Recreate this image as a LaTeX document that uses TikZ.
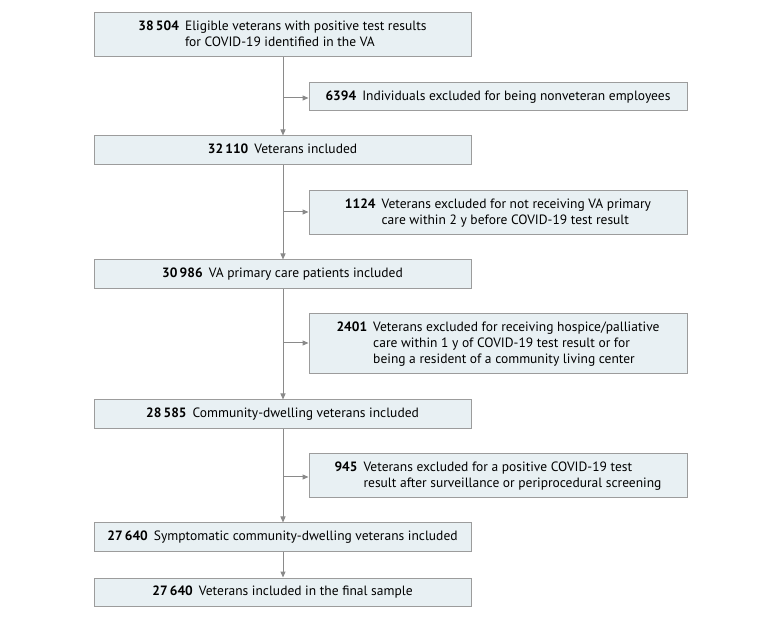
\documentclass[tikz,border=0pt]{standalone}
\usepackage{fontspec}
\setmainfont{PT Sans}
\usetikzlibrary{arrows.meta}
\definecolor{boxfill}{HTML}{E8F0F3}
\definecolor{boxline}{HTML}{9C9C9C}
\definecolor{conn}{HTML}{8A8A8A}
\newcommand{\fcrow}[2]{\begin{tabular}{@{}r@{\hspace{0.45em}}l@{}}\textbf{#1} & #2\end{tabular}}
\tikzset{
  flowbox/.style={draw=boxline, fill=boxfill, line width=1pt, inner sep=0pt, align=center,
    font=\fontsize{13.5}{17}\selectfont},
  mainbox/.style={flowbox, minimum width=377pt},
  exclbox/.style={flowbox, minimum width=378pt},
  conn/.style={draw=conn, line width=1pt},
  arr/.style={conn, -{Triangle[length=6pt,width=5pt]}},
}
\begin{document}
\begin{tikzpicture}[x=1pt,y=-1pt]
\useasboundingbox (0,0) rectangle (780,620);
\renewcommand{\arraystretch}{0.95}
% main column
\node[mainbox, minimum height=44pt] (b1) at (282.5,35) {\begin{tabular}{@{}r@{\hspace{0.45em}}l@{}}\textbf{38\,504} & Eligible veterans with positive test results\\ & for COVID-19 identified in the VA\end{tabular}};
\node[mainbox, minimum height=29pt] (b2) at (282.5,150.5) {\fcrow{32\,110}{Veterans included}};
\node[mainbox, minimum height=29pt] (b3) at (282.5,274.5) {\fcrow{30\,986}{VA primary care patients included}};
\node[mainbox, minimum height=29pt] (b4) at (282.5,414.5) {\fcrow{28\,585}{Community-dwelling veterans included}};
\node[mainbox, minimum height=28pt] (b5) at (282.5,537) {\fcrow{27\,640}{Symptomatic community-dwelling veterans included}};
\node[mainbox, minimum height=28pt] (b6) at (282.5,592) {\fcrow{27\,640}{Veterans included in the final sample}};
% exclusion boxes
\node[exclbox, minimum height=28pt] (e1) at (498,97) {\fcrow{6394}{Individuals excluded for being nonveteran employees}};
\node[exclbox, minimum height=44pt] (e2) at (498,213) {\begin{tabular}{@{}r@{\hspace{0.45em}}l@{}}\textbf{1124} & Veterans excluded for not receiving VA primary\\ & care within 2 y before COVID-19 test result\end{tabular}};
\node[exclbox, minimum height=60pt] (e3) at (498,344) {\begin{tabular}{@{}r@{\hspace{0.45em}}l@{}}\textbf{2401} & Veterans excluded for receiving hospice/palliative\\ & care within 1 y of COVID-19 test result or for\\ & being a resident of a community living center\end{tabular}};
\node[exclbox, minimum height=44pt] (e4) at (498,476) {\begin{tabular}{@{}r@{\hspace{0.45em}}l@{}}\textbf{945} & Veterans excluded for a positive COVID-19 test\\ & result after surveillance or periprocedural screening\end{tabular}};
% branch points
\coordinate (j1) at (283,98);
\coordinate (j2) at (283,212);
\coordinate (j3) at (283,343);
\coordinate (j4) at (283,477);
% trunk
\draw[arr] (b1.south -| j1) -- (b2.north -| j1);
\draw[arr] (b2.south -| j2) -- (b3.north -| j2);
\draw[arr] (b3.south -| j3) -- (b4.north -| j3);
\draw[arr] (b4.south -| j4) -- (b5.north -| j4);
\draw[arr] (b5.south -| j4) -- (b6.north -| j4);
% branches
\draw[arr] (j1) -- (e1.west |- j1);
\draw[arr] (j2) -- (e2.west |- j2);
\draw[arr] (j3) -- (e3.west |- j3);
\draw[arr] (j4) -- (e4.west |- j4);
\end{tikzpicture}
\end{document}
